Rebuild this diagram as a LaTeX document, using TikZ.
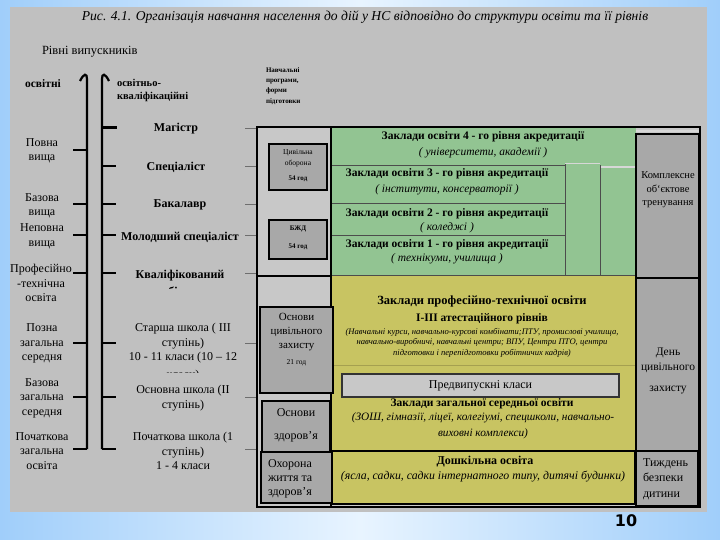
\documentclass[tikz,border=0pt]{standalone}
\usepackage{fontspec}
\setmainfont{Liberation Serif}
\newfontfamily\numfont{DejaVu Sans}
\definecolor{bgblue}{RGB}{160,206,250}
\definecolor{bglight}{RGB}{232,244,255}
\definecolor{panel}{RGB}{192,192,192}
\definecolor{innerf}{RGB}{200,200,200}
\definecolor{greybox}{RGB}{168,168,168}
\definecolor{greenf}{RGB}{146,196,146}
\definecolor{yellowf}{RGB}{200,196,98}
\definecolor{yellowline}{RGB}{165,160,80}
\definecolor{lightline}{RGB}{215,215,215}
\definecolor{linegrey}{RGB}{110,110,110}
\newcommand\fsz[2]{\fontsize{#1}{#2}\selectfont}
\begin{document}
\begin{tikzpicture}[x=1pt,y=-1pt,
  t/.style={inner sep=0pt,outer sep=0pt,align=center},
  gbox/.style={draw=black,line width=1.6pt,fill=greybox,inner sep=0pt},
  tickln/.style={line width=2.2pt},
  thinln/.style={draw=linegrey,line width=0.8pt},
  rowline/.style={draw=black!70,line width=0.7pt}]
\useasboundingbox (0,0) rectangle (720,540);
\shade[left color=bgblue,right color=bgblue,middle color=bglight] (0,0) rectangle (720,540);
\fill[panel] (10,7) rectangle (707,512);

% title
\node[t,font=\fsz{13.6}{15}\itshape] (title) at (365,17) {Рис. 4.1. Організація навчання населення до дій у НС відповідно до структури освіти та її рівнів};
\node[t,anchor=west,font=\fsz{12.5}{15}] (rivni) at (42,52) {Рівні випускників};

% axis headers
\node[t,font=\fsz{11.5}{13}\bfseries] (osv) at (43,84) {освітні};
\node[t,anchor=west,align=left,font=\fsz{10.5}{13}\bfseries] (okv) at (117,90.5) {освітньо-\\кваліфікаційні};
\node[t,anchor=west,align=left,font=\fsz{7}{10.3}\bfseries] (nav) at (266,86) {Навчальні\\програми,\\форми\\підготовки};

% axis lines
\draw[line width=2.2pt] (87,449) -- (87,79) .. controls (87,73) and (84,73) .. (80,81);
\draw[line width=2.2pt] (102,449) -- (102,79) .. controls (102,73) and (105,73) .. (109,81);
\foreach \yy in {150,204,235,273,343,397,449} \draw[tickln] (73,\yy) -- (87,\yy);
\draw[line width=3pt] (102,128) -- (117,128);
\foreach \yy in {166,204,235,273,343,397,449} \draw[tickln] (102,\yy) -- (116,\yy);
\foreach \yy in {128,166,204,235,273,343,397,449} \draw[thinln] (245,\yy) -- (257,\yy);

% left labels
\begin{scope}[every node/.style={t,font=\fsz{12}{14.5}}]
\node (l1) at (42,151) {Повна\\вища};
\node (l2) at (42,206) {Базова\\вища};
\node (l3) at (42,236.5) {Неповна\\вища};
\node (l4) at (41,283) {Професійно\\-технічна\\освіта};
\node (l5) at (42,343.5) {Позна\\загальна\\середня};
\node (l6) at (42,398) {Базова\\загальна\\середня};
\node (l7) at (42,451) {Початкова\\загальна\\освіта};
\end{scope}

% right labels
\begin{scope}[every node/.style={t,font=\fsz{12}{14.5}\bfseries}]
\node (r1) at (176,129) {Магістр};
\node (r2) at (176,167) {Спеціаліст};
\node (r3) at (180,205) {Бакалавр};
\node (r4) at (180,237) {Молодший спеціаліст};
\node (r5) at (180,276) {Кваліфікований};
\end{scope}
\begin{scope}
\clip (120,282.5) rectangle (245,288);
\node[t,font=\fsz{12}{14.5}\bfseries] (r5b) at (180,292) {робітник};
\end{scope}
\begin{scope}[every node/.style={t,font=\fsz{12}{14.5}}]
\node (r6) at (183,343.5) {Старша школа ( III\\ступінь)\\10 - 11 класи (10 – 12};
\node (r7) at (183,398) {Основна школа (II\\ступінь)};
\node (r8) at (183,451) {Початкова школа (1\\ступінь)\\1 - 4 класи};
\end{scope}
\begin{scope}
\clip (120,366) rectangle (245,372);
\node[t,font=\fsz{12}{14.5}] (r6b) at (183,376) {класи)};
\end{scope}

% main frame interior
\fill[innerf] (257,127) rectangle (700,507);
\fill[greenf] (331,127) rectangle (636,276);
\fill[yellowf] (331,276) rectangle (636,451);
\draw[rowline] (331,165) -- (565,165);
\draw[rowline] (331,203) -- (565,203);
\draw[rowline] (331,235) -- (565,235);
\draw[rowline] (565,163) -- (565,276);
\draw[rowline] (600,165) -- (600,276);
\draw[rowline] (331,275) -- (636,275);
\draw[draw=lightline,line width=1.6pt] (565,163.5) -- (600,163.5);
\draw[draw=lightline,line width=1.6pt] (601,167) -- (636,167);
\draw[draw=yellowline,line width=0.8pt] (331,365) -- (636,365);
\draw[draw=lightline,line width=1.6pt] (636,131) -- (699,131);

% green texts
\begin{scope}[every node/.style={t}]
\node[font=\fsz{11.5}{13}\bfseries] (g4a) at (483,137) {Заклади освіти 4 - го рівня акредитації};
\node[font=\fsz{11.5}{13}\itshape] (g4b) at (483,153) {( університети, академії )};
\node[font=\fsz{11.5}{13}\bfseries] (g3a) at (447,174) {Заклади освіти 3 - го рівня акредитації};
\node[font=\fsz{11.5}{13}\itshape] (g3b) at (447,190) {( інститути, консерваторії )};
\node[font=\fsz{11.5}{13}\bfseries] (g2a) at (447,214) {Заклади освіти 2 - го рівня акредитації};
\node[font=\fsz{11.5}{13}\itshape] (g2b) at (447,228) {( коледжі )};
\node[font=\fsz{11.5}{13}\bfseries] (g1a) at (447,245) {Заклади освіти 1 - го рівня акредитації};
\node[font=\fsz{11.5}{13}\itshape] (g1b) at (447,259) {( технікуми, училища )};
% vocational
\node[font=\fsz{12.5}{14}\bfseries] (p1) at (482,301) {Заклади професійно-технічної освіти};
\node[font=\fsz{11.5}{13}\bfseries] (p2) at (482,319) {І-ІІІ атестаційного рівнів};
\node[font=\fsz{8.6}{10.5}\itshape] (p3) at (482,342.5) {(Навчальні курси, навчально-курсові комбінати;ПТУ, промислові училища,\\навчально-виробничі, навчальні центри; ВПУ, Центри ПТО, центри\\підготовки і перепідготовки робітничих кадрів)};
% general secondary
\node[font=\fsz{11.5}{13}\bfseries] (s1) at (482,404) {Заклади загальної середньої освіти};
\node[font=\fsz{11.3}{15.5}\itshape] (s2) at (483,426) {(ЗОШ, гімназії, ліцеї, колегіумі, спецшколи, навчально-\\виховні комплекси)};
\end{scope}

\node[draw=black!80,line width=1.2pt,fill=innerf,minimum width=277pt,minimum height=23pt,inner sep=0pt,font=\fsz{12}{14}] (pred) at (480.5,385.5) {Предвипускні класи};

% preschool
\node[draw=black,line width=2pt,fill=yellowf,minimum width=303pt,minimum height=53pt,inner sep=0pt] (dosh) at (483.5,477.5) {};
\node[t,font=\fsz{12}{14}\bfseries] (d1) at (485,462) {Дошкільна освіта};
\node[t,font=\fsz{11.8}{14}\itshape] (d2) at (483,477) {(ясла, садки, садки інтернатного типу, дитячі будинки)};

% right column
\node[gbox,minimum width=63pt,minimum height=144pt] (kot) at (667.5,206) {};
\node[t,font=\fsz{10.5}{13.5}] (kott) at (668,190) {Комплексне\\об`єктове\\тренування};
\node[gbox,minimum width=63pt,minimum height=173pt] (dcz) at (667.5,364.5) {};
\node[t,font=\fsz{11.5}{13}] (dcz1) at (668,353) {День};
\node[t,font=\fsz{11.5}{13}] (dcz2) at (668,368) {цивільного};
\node[t,font=\fsz{11.5}{13}] (dcz3) at (668,390) {захисту};
\node[gbox,minimum width=62pt,minimum height=55pt] (tbd) at (667,478.5) {};
\node[t,anchor=west,align=left,font=\fsz{12}{15.5}] (tbdt) at (643,479) {Тиждень\\безпеки\\дитини};

% left column
\draw[line width=2pt] (257,276) -- (331,276);
\draw[line width=2pt] (331,127) -- (331,507);
\node[gbox,minimum width=58pt,minimum height=46pt] (co) at (298,167) {};
\node[t,font=\fsz{7.5}{10.5}] (cot) at (298,158.5) {Цивільна\\оборона};
\node[t,font=\fsz{7}{9}\bfseries] (coh) at (298,178.5) {54 год};
\node[gbox,minimum width=58pt,minimum height=39pt] (bzd) at (298,239.5) {};
\node[t,font=\fsz{7}{9}\bfseries] (bzdt) at (298,229) {БЖД};
\node[t,font=\fsz{7}{9}\bfseries] (bzdh) at (298,247) {54 год};
\node[gbox,line width=2pt,minimum width=73pt,minimum height=86pt] (ocz) at (296.5,350) {};
\node[t,font=\fsz{11}{14}] (oczt) at (296.5,332) {Основи\\цивільного\\захисту};
\node[t,font=\fsz{7.5}{9}] (oczh) at (296.5,363) {21 год};
\node[gbox,minimum width=68pt,minimum height=51pt] (oz) at (296,426.5) {};
\node[t,font=\fsz{12}{23}] (ozt) at (296,425.5) {Основи\\здоров’я};
\node[gbox,line width=2pt,minimum width=71pt,minimum height=51pt] (ozhz) at (296.5,477.5) {};
\node[t,anchor=west,align=left,font=\fsz{12}{14}] (ozhzt) at (268,478.5) {Охорона\\життя та\\здоров’я};

% frame border
\draw[line width=2.2pt] (257,127) rectangle (700,507);

% page number
\node[t,font=\numfont\bfseries\fsz{16}{18}] (pg) at (626,521) {10};
\end{tikzpicture}
\end{document}
